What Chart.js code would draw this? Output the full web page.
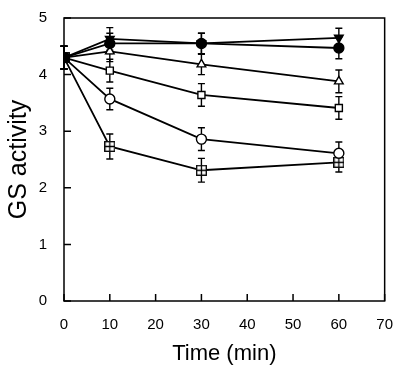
<!DOCTYPE html>
<html>
<head>
<meta charset="utf-8">
<script src="https://cdn.jsdelivr.net/npm/chart.js@4/dist/chart.umd.min.js"></script>
<style>
  html, body { margin: 0; padding: 0; background: #fff; }
  #wrap { width: 400px; height: 371px; }
</style>
</head>
<body>
<div id="wrap"><canvas id="gs-chart"></canvas></div>
<script>
// time points (min)
const times = [0, 10, 30, 60];

// GS activity, one array per curve
const filledTriangle = [4.3, 4.63, 4.55, 4.65];
const filledCircle   = [4.3, 4.55, 4.55, 4.47];
const openTriangle   = [4.3, 4.41, 4.18, 3.88];
const openSquare     = [4.3, 4.07, 3.64, 3.41];
const openCircle     = [4.3, 3.57, 2.86, 2.61];
const crossedSquare  = [4.3, 2.73, 2.31, 2.45];

// error bar half-heights
const filledTriangleErr = [0.2, 0.2, 0.18, 0.17];
const filledCircleErr   = [0.2, 0.18, 0.18, 0.19];
const openTriangleErr   = [0.2, 0.18, 0.18, 0.2];
const openSquareErr     = [0.2, 0.2, 0.2, 0.2];
const openCircleErr     = [0.2, 0.19, 0.2, 0.2];
const crossedSquareErr  = [0.2, 0.22, 0.21, 0.17];

const xTicks = [0, 10, 20, 30, 40, 50, 60, 70];
const yTicks = [0, 1, 2, 3, 4, 5];

const FONT = "'Liberation Sans', Arial, sans-serif";

// square with a plus inside
function makeCrossedSquare() {
    const c = document.createElement('canvas');
    c.width = 11; c.height = 11;
    const g = c.getContext('2d');
    g.fillStyle = '#fff';
    g.fillRect(0, 0, 11, 11);
    g.strokeStyle = '#000';
    g.lineWidth = 1.3;
    g.strokeRect(0.7, 0.7, 9.6, 9.6);
    g.beginPath();
    g.moveTo(5.5, 1); g.lineTo(5.5, 10);
    g.moveTo(1, 5.5); g.lineTo(10, 5.5);
    g.stroke();
    return c;
}

function pts(values) {
    return values.map((v, i) => ({ x: times[i], y: v }));
}

function series(values, errs, style, filled, rotation) {
    return {
        data: pts(values),
        errors: errs,
        borderColor: '#000',
        borderWidth: 1.8,
        pointStyle: style,
        pointRotation: rotation || 0,
        pointRadius: 5,
        pointBorderWidth: 1.4,
        pointBorderColor: '#000',
        pointBackgroundColor: filled ? '#000' : '#fff',
        fill: false,
        tension: 0
    };
}

const errorBars = {
    id: 'errorBars',
    beforeDatasetsDraw(chart) {
        const ctx = chart.ctx;
        const ys = chart.scales.y;
        ctx.save();
        ctx.strokeStyle = '#000';
        ctx.lineWidth = 1.4;
        chart.data.datasets.forEach((ds, di) => {
            if (!ds.errors) return;
            const meta = chart.getDatasetMeta(di);
            meta.data.forEach((pt, i) => {
                const v = ds.data[i].y;
                const e = ds.errors[i];
                const top = ys.getPixelForValue(v + e);
                const bot = ys.getPixelForValue(v - e);
                ctx.beginPath();
                ctx.moveTo(pt.x, top); ctx.lineTo(pt.x, bot);
                ctx.moveTo(pt.x - 3.5, top); ctx.lineTo(pt.x + 3.5, top);
                ctx.moveTo(pt.x - 3.5, bot); ctx.lineTo(pt.x + 3.5, bot);
                ctx.stroke();
            });
        });
        ctx.restore();
    }
};

// frame and inward ticks
const frame = {
    id: 'frame',
    afterDraw(chart) {
        const ctx = chart.ctx;
        const a = chart.chartArea;
        const xs = chart.scales.x, ys = chart.scales.y;
        ctx.save();
        ctx.strokeStyle = '#000';
        ctx.lineWidth = 1.5;
        ctx.strokeRect(a.left, a.top, a.right - a.left, a.bottom - a.top);
        ctx.beginPath();
        xTicks.forEach(t => {
            const px = xs.getPixelForValue(t);
            ctx.moveTo(px, a.bottom); ctx.lineTo(px, a.bottom - 7);
        });
        yTicks.forEach(t => {
            const py = ys.getPixelForValue(t);
            ctx.moveTo(a.left, py); ctx.lineTo(a.left + 7, py);
        });
        ctx.stroke();
        ctx.restore();
    }
};

new Chart(document.getElementById('gs-chart').getContext('2d'), {
    type: 'line',
    data: {
        datasets: [
            { data: [{ x: 0, y: 4.3 }], borderColor: '#000', pointStyle: 'rect',
              pointRadius: 5.5, pointBackgroundColor: '#000', pointBorderColor: '#000', showLine: false },
            series(filledTriangle, filledTriangleErr, 'triangle', true, 180),
            series(filledCircle, filledCircleErr, 'circle', true),
            series(openTriangle, openTriangleErr, 'triangle', false),
            series(openSquare, openSquareErr, 'rect', false),
            series(openCircle, openCircleErr, 'circle', false),
            series(crossedSquare, crossedSquareErr, makeCrossedSquare(), false)
        ]
    },
    options: {
        responsive: true,
        maintainAspectRatio: false,
        animation: false,
        layout: { padding: { top: 17, right: 11, left: 0, bottom: 0 } },
        plugins: { legend: { display: false }, tooltip: { enabled: false } },
        scales: {
            x: {
                type: 'linear',
                min: 0, max: 70,
                afterBuildTicks(scale) { scale.ticks = xTicks.map(v => ({ value: v })); },
                afterFit(scale) { scale.height = 70; },
                grid: { display: false },
                border: { display: false },
                ticks: { color: '#000', padding: 7, font: { family: FONT, size: 15 } },
                title: { display: true, text: 'Time (min)', color: '#000', padding: { top: 0 },
                         font: { family: FONT, size: 22 } }
            },
            y: {
                min: 0, max: 5,
                afterBuildTicks(scale) { scale.ticks = yTicks.map(v => ({ value: v })); },
                afterFit(scale) { scale.width = 64; },
                grid: { display: false },
                border: { display: false },
                ticks: { color: '#000', padding: 9, font: { family: FONT, size: 15 } },
                title: { display: true, text: 'GS activity', color: '#000', padding: { bottom: 4 },
                         font: { family: FONT, size: 25 } }
            }
        }
    },
    plugins: [errorBars, frame]
});
</script>
</body>
</html>
